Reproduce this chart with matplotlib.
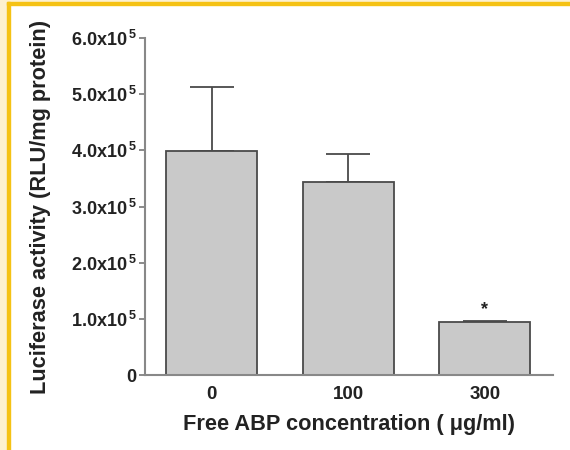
import matplotlib.pyplot as plt
from matplotlib.patches import Rectangle
import numpy as np

# data
concentrations = ['0', '100', '300']
activity = [3.99e5, 3.44e5, 0.94e5]
err_upper = [1.13e5, 0.49e5, 0.02e5]
yticks = [0, 1e5, 2e5, 3e5, 4e5, 5e5, 6e5]
ytick_labels = ['0', '1.0x10$^{\\,5}$', '2.0x10$^{\\,5}$', '3.0x10$^{\\,5}$',
                '4.0x10$^{\\,5}$', '5.0x10$^{\\,5}$', '6.0x10$^{\\,5}$']

plt.rcParams['font.family'] = ['Liberation Sans', 'DejaVu Sans']
plt.rcParams['font.weight'] = 'bold'
plt.rcParams['axes.labelweight'] = 'bold'
plt.rcParams['mathtext.fontset'] = 'custom'
plt.rcParams['mathtext.rm'] = 'Liberation Sans:bold'
plt.rcParams['mathtext.default'] = 'rm'

W, H = 570, 450
fig = plt.figure(figsize=(W / 100, H / 100), dpi=100)

# yellow frame on the left and top
fig.patches.append(Rectangle((0, 0), 8 / W, 1, transform=fig.transFigure,
                             color='#fdf1cf', zorder=0))
fig.patches.append(Rectangle((0, 1 - 2 / H), 1, 2 / H, transform=fig.transFigure,
                             color='#fdf1cf', zorder=0))
fig.patches.append(Rectangle((7 / W, 0), 3 / W, 1 - 2 / H, transform=fig.transFigure,
                             color='#f5c214', zorder=1))
fig.patches.append(Rectangle((7 / W, 1 - 5 / H), 1, 3 / H, transform=fig.transFigure,
                             color='#f5c214', zorder=1))

ax = fig.add_axes([145 / W, 1 - 375 / H, (553 - 145) / W, (375 - 38) / H])
x = np.arange(len(concentrations))
ax.bar(x, activity, width=0.667, color='#c9c9c9', edgecolor='#4a4a4a',
       linewidth=1.3, zorder=2)
ax.errorbar(x, activity, yerr=[np.zeros(len(x)), err_upper], fmt='none',
            ecolor='#4a4a4a', elinewidth=1.3, capsize=16, capthick=1.3, zorder=1)
ax.text(x[2], activity[2] + err_upper[2] + 0.05e5, '*', ha='center', va='bottom',
        fontsize=13, color='#222222')

ax.set_xlim(-0.49, 2.5)
ax.set_ylim(0, 6e5)
ax.set_yticks(yticks)
ax.set_yticklabels(ytick_labels, fontsize=13, color='#222222')
ax.set_xticks(x)
ax.set_xticklabels(concentrations, fontsize=13.5, color='#222222')
ax.tick_params(axis='x', length=0, pad=8)
ax.tick_params(axis='y', length=4, width=1.2, color='#777777', pad=2)
for s in ['top', 'right']:
    ax.spines[s].set_visible(False)
for s in ['left', 'bottom']:
    ax.spines[s].set_color('#888888')
    ax.spines[s].set_linewidth(1.5)

ax.set_xlabel('Free ABP concentration ( \u03bcg/ml)', fontsize=15.7, color='#222222',
              labelpad=8)
ax.set_ylabel('Luciferase activity (RLU/mg protein)', fontsize=15.7, color='#222222',
              labelpad=14)

fig.savefig('out.png', dpi=100)
